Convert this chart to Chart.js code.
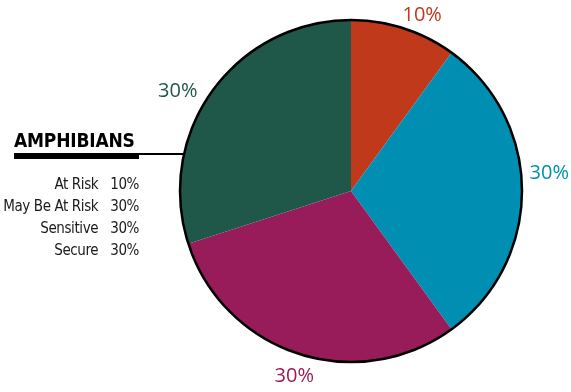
<!DOCTYPE html>
<html>
<head>
<meta charset="utf-8">
<script src="https://cdn.jsdelivr.net/npm/chart.js@4.4.1/dist/chart.umd.min.js"></script>
<style>
    html, body { margin: 0; padding: 0; background: #fff; }
    #wrap { position: relative; width: 571px; height: 392px; }
    #pie { position: absolute; left: 0; top: 0; }
    #title {
        position: absolute; left: 14px; top: 129px;
        font-family: "DejaVu Sans Condensed", "Liberation Sans Narrow", sans-serif;
        font-weight: bold; font-size: 19px; color: #000; letter-spacing: -0.2px;
    }
    #bar { position: absolute; left: 14px; top: 153px; width: 125px; height: 6px; background: #000; }
    #rule { position: absolute; left: 139px; top: 153px; width: 45px; height: 2px; background: #000; }
    #legend {
        position: absolute; right: 432px; top: 173px;
        font-family: "Liberation Sans Narrow", "DejaVu Sans Condensed", sans-serif;
        font-size: 15px; color: #1a1a1a; border-collapse: collapse; white-space: nowrap;
        letter-spacing: -0.4px;
    }
    #legend td { padding: 0; height: 22px; line-height: 22px; }
    #legend td.name { text-align: right; }
    #legend td.val { padding-left: 12px; text-align: left; }
</style>
</head>
<body>
<div id="wrap">
    <canvas id="pie" width="571" height="392"></canvas>
    <div id="title">AMPHIBIANS</div>
    <div id="bar"></div>
    <div id="rule"></div>
    <table id="legend"></table>
</div>
<script>
const categories = ['At Risk', 'May Be At Risk', 'Sensitive', 'Secure'];
const percents = [10, 30, 30, 30];
const sliceColors = ['#c0391a', '#008fb2', '#991c5a', '#1f5748'];

// table under the title
const table = document.getElementById('legend');
categories.forEach((name, i) => {
    const row = document.createElement('tr');
    row.innerHTML = '<td class="name">' + name + '</td><td class="val">' + percents[i] + '%</td>';
    table.appendChild(row);
});

// outer ring + percent labels outside each slice
const pieDecor = {
    id: 'pieDecor',
    afterDatasetsDraw(chart, args, opts) {
        const ctx = chart.ctx;
        const arcs = chart.getDatasetMeta(0).data;
        const first = arcs[0];
        ctx.save();
        ctx.beginPath();
        ctx.arc(first.x, first.y, first.outerRadius, 0, Math.PI * 2);
        ctx.lineWidth = 2.5;
        ctx.strokeStyle = '#000';
        ctx.stroke();

        ctx.font = '20px "Open Sans", sans-serif';
        ctx.textAlign = 'center';
        ctx.textBaseline = 'middle';
        arcs.forEach((arc, i) => {
            const mid = (arc.startAngle + arc.endAngle) / 2 + opts.nudge[i] * Math.PI / 180;
            const r = arc.outerRadius + opts.gap[i];
            ctx.fillStyle = sliceColors[i];
            ctx.fillText(percents[i] + '%', arc.x + Math.cos(mid) * r, arc.y + Math.sin(mid) * r);
        });
        ctx.restore();
    }
};

new Chart(document.getElementById('pie').getContext('2d'), {
    type: 'pie',
    data: {
        labels: categories,
        datasets: [{
            data: percents,
            backgroundColor: sliceColors,
            borderWidth: 0
        }]
    },
    options: {
        responsive: false,
        animation: false,
        layout: { padding: { left: 180, right: 49, top: 20, bottom: 30 } },
        plugins: {
            legend: { display: false },
            tooltip: { enabled: false },
            pieDecor: { nudge: [4, -5, -1, -6], gap: [19, 28, 23, 29] }
        }
    },
    plugins: [pieDecor]
});
</script>
</body>
</html>
